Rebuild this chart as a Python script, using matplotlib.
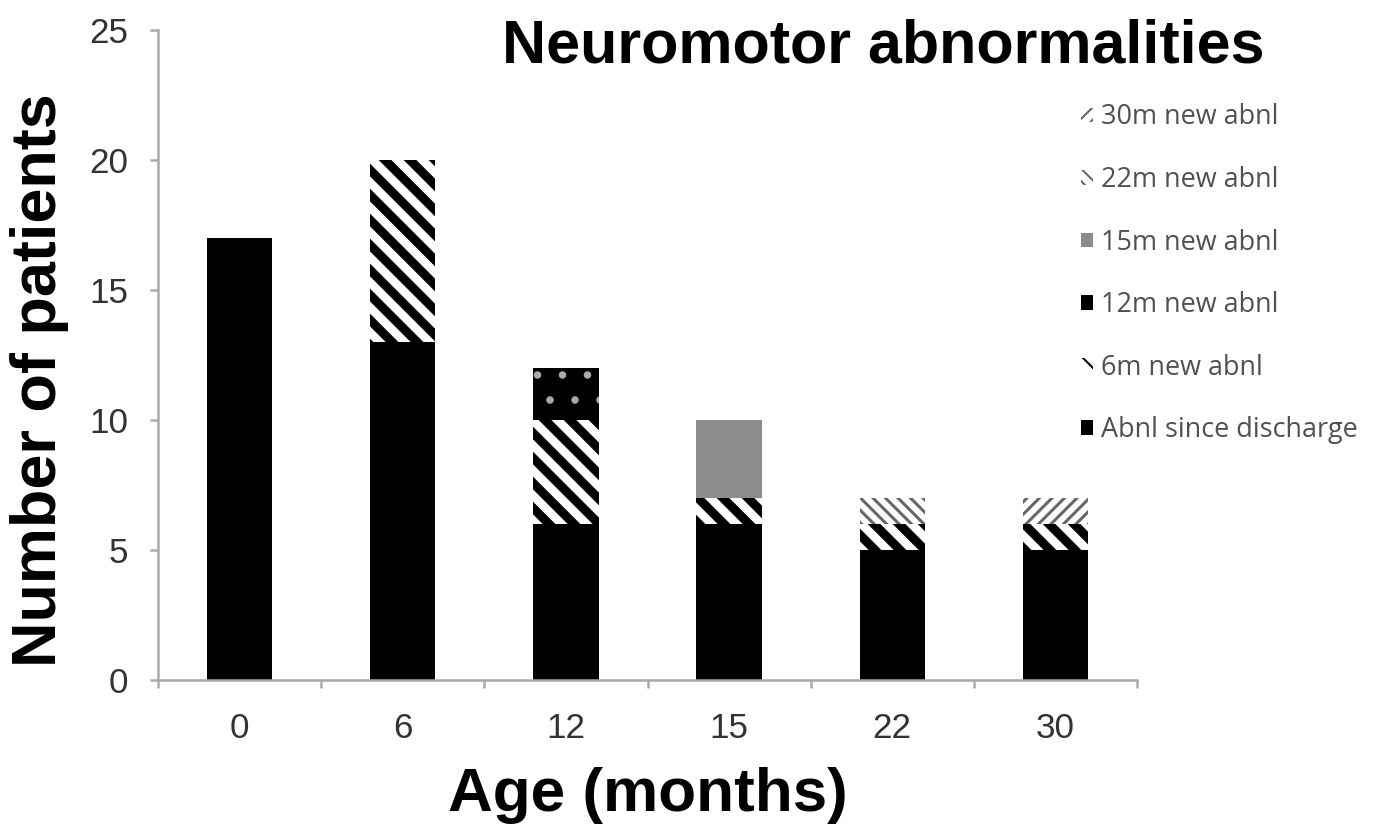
import numpy as np
import matplotlib
matplotlib.use("Agg")
from matplotlib import pyplot as plt

ages = ["0", "6", "12", "15", "22", "30"]
abnl_discharge = [17, 13, 6, 6, 5, 5]
new_6m = [0, 7, 4, 1, 1, 1]
new_12m = [0, 0, 2, 0, 0, 0]
new_15m = [0, 0, 0, 3, 0, 0]
new_22m = [0, 0, 0, 0, 1, 0]
new_30m = [0, 0, 0, 0, 0, 1]
labels = ["Abnl since discharge", "6m new abnl", "12m new abnl",
          "15m new abnl", "22m new abnl", "30m new abnl"]

DPI = 150
def px(v):
    # pixels -> points at this dpi
    return v * 72.0 / DPI

# style per series: (bar kwargs, hatch linewidth)
styles = [
    (dict(color="black", linewidth=0), 1.0),
    (dict(facecolor="white", edgecolor="black", hatch="\\\\", linewidth=0), px(9)),
    (dict(facecolor="black", edgecolor="#aaaaaa", hatch=".", linewidth=0), px(2.5)),
    (dict(facecolor="#8c8c8c", edgecolor="#8c8c8c", linewidth=0), 1.0),
    (dict(facecolor="white", edgecolor="#666666", hatch="\\" * 4, linewidth=0), px(3)),
    (dict(facecolor="white", edgecolor="#666666", hatch="/" * 4, linewidth=0), px(3)),
]
values = [abnl_discharge, new_6m, new_12m, new_15m, new_22m, new_30m]

plt.rcParams["font.family"] = ["Liberation Sans", "DejaVu Sans"]

fig = plt.figure(figsize=(1374 / DPI, 835 / DPI), dpi=DPI)
ax = fig.add_axes([158 / 1374, 155 / 835, 979 / 1374, 650 / 835])

x = np.arange(len(ages))
bottom = np.zeros(len(ages))
handles = []
for name, vals, (style, hlw) in zip(labels, values, styles):
    with plt.rc_context({"hatch.linewidth": hlw}):
        b = ax.bar(x, vals, width=0.4, bottom=bottom, label=name, **style)
    bottom += np.array(vals)
    handles.append(b)

ax.set_xlim(-0.5, len(ages) - 0.5)
ax.set_ylim(0, 25)
ax.set_yticks([0, 5, 10, 15, 20, 25])
ax.set_xticks(x)
ax.set_xticklabels(ages)
ax.set_xticks(np.arange(len(ages) + 1) - 0.5, minor=True)
for s in ["top", "right"]:
    ax.spines[s].set_visible(False)
for s in ["left", "bottom"]:
    ax.spines[s].set_color("#aaaaaa")
    ax.spines[s].set_linewidth(px(2.5))
ax.tick_params(axis="y", labelsize=px(35), colors="#aaaaaa", labelcolor="#333333",
               length=px(8), width=px(2.5), pad=px(22))
ax.tick_params(axis="x", which="major", labelsize=px(35), labelcolor="#333333",
               length=0, pad=px(32))
ax.tick_params(axis="x", which="minor", colors="#aaaaaa", length=px(8), width=px(2.5))

fig.text(883 / 1374, 1 - 47 / 835, "Neuromotor abnormalities", fontsize=px(61),
         fontweight="bold", ha="center", va="center")
fig.text(40 / 1374, 1 - 380 / 835, "Number of patients", fontsize=px(63),
         fontweight="bold", ha="center", va="center", rotation=90)
fig.text(648 / 1374, 1 - 795 / 835, "Age (months)", fontsize=px(62),
         fontweight="bold", ha="center", va="center")

leg = fig.legend(handles[::-1], labels[::-1], loc="upper left",
                 bbox_to_anchor=(1067 / 1374, 1 - 90 / 835), frameon=False,
                 prop={"family": "Open Sans", "size": px(27)},
                 labelspacing=1.28, handlelength=0.45, handleheight=0.45,
                 handletextpad=0.3, labelcolor="#505050", borderpad=0)

fig.savefig("out.png", dpi=DPI)
